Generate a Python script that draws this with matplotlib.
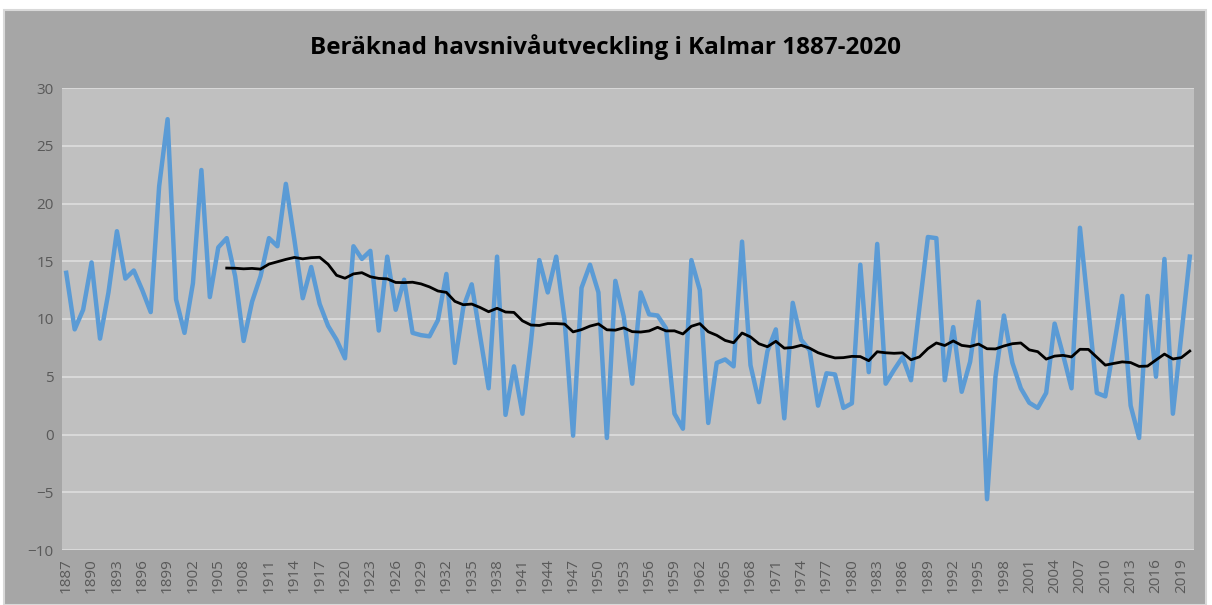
import numpy as np
import pandas as pd
import matplotlib
matplotlib.use('Agg')
import matplotlib.pyplot as plt
from matplotlib.patches import Rectangle

# yearly values (cm)
years = list(range(1887, 2021))
sea_level = [
    14.0, 9.1, 10.8, 14.9, 8.3, 12.3, 17.6, 13.5, 14.2, 12.5,   # 1887-1896
    10.6, 21.5, 27.3, 11.7, 8.8, 13.1, 22.9, 11.9, 16.2, 17.0,  # 1897-1906
    13.7, 8.1, 11.5, 13.7, 17.0, 16.3, 21.7, 16.9, 11.8, 14.5,  # 1907-1916
    11.3, 9.4, 8.2, 6.6, 16.3, 15.2, 15.9, 9.0, 15.4, 10.8,     # 1917-1926
    13.4, 8.8, 8.6, 8.5, 9.9, 13.9, 6.2, 11.0, 13.0, 8.5,       # 1927-1936
    4.0, 15.4, 1.7, 5.9, 1.8, 7.9, 15.1, 12.3, 15.4, 9.9,       # 1937-1946
    -0.1, 12.7, 14.7, 12.3, -0.3, 13.3, 10.2, 4.4, 12.3, 10.4,  # 1947-1956
    10.3, 9.2, 1.8, 0.5, 15.1, 12.5, 1.0, 6.2, 6.5, 5.9,        # 1957-1966
    16.7, 6.0, 2.8, 7.2, 9.1, 1.4, 11.4, 8.2, 7.3, 2.5,         # 1967-1976
    5.3, 5.2, 2.3, 2.7, 14.7, 5.4, 16.5, 4.4, 5.6, 6.7,         # 1977-1986
    4.7, 11.0, 17.1, 17.0, 4.7, 9.3, 3.7, 6.3, 11.5, -5.6,      # 1987-1996
    5.0, 10.3, 6.2, 4.0, 2.75, 2.3, 3.6, 9.6, 6.9, 4.0,         # 1997-2006
    17.9, 10.8, 3.6, 3.3, 7.6, 12.0, 2.5, -0.3, 12.0, 5.0,      # 2007-2016
    15.2, 1.8, 8.6, 15.4,                                       # 2017-2020
]
ma_period = 20  # moving-average trendline period

series = pd.Series(sea_level, index=years)
trend = series.rolling(ma_period).mean()

x = np.arange(len(years))
tick_pos = x[::3]
tick_labels = [str(y) for y in years[::3]]

fig = plt.figure(figsize=(12.12, 6.05), dpi=100)
fig.patch.set_facecolor('white')
# grey chart frame behind the plot area
frame = Rectangle((4 / 1212, 0), 1202 / 1212, 595 / 605,
                  transform=fig.transFigure, facecolor='#a6a6a6',
                  edgecolor='#d9d9d9', linewidth=1.5, zorder=-1)
fig.patches.append(frame)

ax = fig.add_axes([62 / 1212, 1 - 550 / 605, 1132 / 1212, 462 / 605])
ax.set_zorder(1)
ax.set_facecolor('#c0c0c0')
for s in ax.spines.values():
    s.set_visible(False)

ax.plot(x, series.values, color='#5b9bd5', linewidth=3.2, solid_joinstyle='round', zorder=3)
ax.plot(x, trend.values, color='black', linewidth=2.0, zorder=4)

ax.set_ylim(-10, 30)
ax.set_yticks(range(-10, 31, 5))
ax.set_xlim(-0.5, len(years) - 0.5)
ax.set_xticks(tick_pos)
ax.set_xticklabels(tick_labels, rotation=90)
ax.grid(axis='y', color='#d9d9d9', linewidth=1.4)
ax.set_axisbelow(True)
ax.tick_params(axis='both', length=0, labelsize=11, labelcolor='#595959', pad=6)
for lbl in ax.get_xticklabels() + ax.get_yticklabels():
    lbl.set_fontfamily('Open Sans')

fig.text(0.5, 1 - 47 / 605, 'Beräknad havsnivåutveckling i Kalmar 1887-2020',
         ha='center', va='center', fontsize=17.5, fontweight='bold',
         fontfamily='Open Sans', color='black')

fig.savefig('out.png', dpi=100)
